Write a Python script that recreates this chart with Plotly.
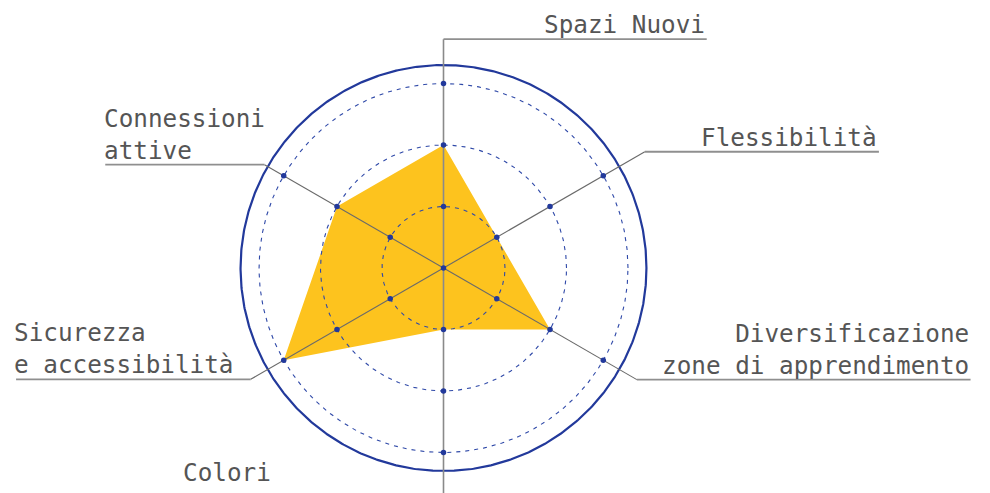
import numpy as np
import plotly.graph_objects as go

# Radar categories (clockwise from the top) and their scores on a 0-3 scale
categories = ["Spazi Nuovi", "Flessibilità", "Diversificazione<br>zone di apprendimento",
              "Colori", "Sicurezza<br>e accessibilità", "Connessioni<br>attive"]
scores = [2, 1, 2, 1, 3, 2]
ring_levels = [1, 2, 3]

# Geometry of the chart
angles_deg = [90, 30, -30, -90, -150, 150]
outer_r = 3.3
NAVY = "#22399b"
RING = "#2f49a8"
YELLOW = "#fdc31e"
TEXT = "#555555"

# leader lines: radius where the spoke bends, and horizontal end of the leader
leader_r = [3.72, 3.78, 3.63, 4.2, 3.62, 3.36]
leader_end = [4.28, 7.08, 8.57, None, -6.95, -5.50]

def pol(r, a):
    t = np.deg2rad(a)
    return r * np.cos(t), r * np.sin(t)

fig = go.Figure()

# filled score polygon
px, py = zip(*[pol(v, a) for v, a in zip(scores, angles_deg)])
fig.add_trace(go.Scatter(x=list(px) + [px[0]], y=list(py) + [py[0]], mode="lines",
                         fill="toself", fillcolor=YELLOW, line=dict(width=0, color=YELLOW),
                         hoverinfo="skip"))

# dashed level rings and solid outer ring
th = np.linspace(0, 2 * np.pi, 721)
for lv in ring_levels:
    fig.add_trace(go.Scatter(x=lv * np.cos(th), y=lv * np.sin(th), mode="lines",
                             line=dict(color=RING, width=1.1, dash="4px,5px"),
                             hoverinfo="skip"))
fig.add_trace(go.Scatter(x=outer_r * np.cos(th), y=outer_r * np.sin(th), mode="lines",
                         line=dict(color=NAVY, width=2.2), hoverinfo="skip"))

# spokes and leader lines
for i, a in enumerate(angles_deg):
    ex, ey = pol(leader_r[i], a)
    w = 1.6 if a in (90, -90) else 1.1
    c = "#8a8a8a" if a in (90, -90) else "#6a6a6a"
    fig.add_trace(go.Scatter(x=[0, ex], y=[0, ey], mode="lines",
                             line=dict(color=c, width=w), hoverinfo="skip"))
    if leader_end[i] is not None:
        fig.add_trace(go.Scatter(x=[ex, leader_end[i]], y=[ey, ey], mode="lines",
                                 line=dict(color="#8f8f8f", width=1.8), hoverinfo="skip"))

# dots at every ring on every spoke
dx, dy = [0.0], [0.0]
for a in angles_deg:
    for lv in ring_levels:
        x, y = pol(lv, a)
        dx.append(x)
        dy.append(y)
fig.add_trace(go.Scatter(x=dx, y=dy, mode="markers",
                         marker=dict(color=NAVY, size=5.5), hoverinfo="skip"))

# labels
font = dict(family="DejaVu Sans Mono, monospace", size=24.3, color=TEXT)
for i, a in enumerate(angles_deg):
    ex, ey = pol(leader_r[i], a)
    if leader_end[i] is None:
        fig.add_annotation(x=-3.52, y=-3.33, text=categories[i], showarrow=False,
                           xanchor="center", yanchor="middle", font=font)
        continue
    right = leader_end[i] > 0
    fig.add_annotation(x=leader_end[i] + (0.0 if right else -0.06), y=ey,
                       text=categories[i], showarrow=False,
                       xanchor="right" if right else "left", yanchor="bottom",
                       align="right" if right else "left", font=font, yshift=-2)

W, H = 990, 493
scale = 61.5
cx, cy = 443.5, 268
fig.update_layout(
    width=W, height=H, margin=dict(l=0, r=0, t=0, b=0),
    paper_bgcolor="white", plot_bgcolor="white", showlegend=False,
    xaxis=dict(range=[-cx / scale, (W - cx) / scale], visible=False, fixedrange=True),
    yaxis=dict(range=[-(H - cy) / scale, cy / scale], visible=False, fixedrange=True),
)
fig.write_html("out.html")
